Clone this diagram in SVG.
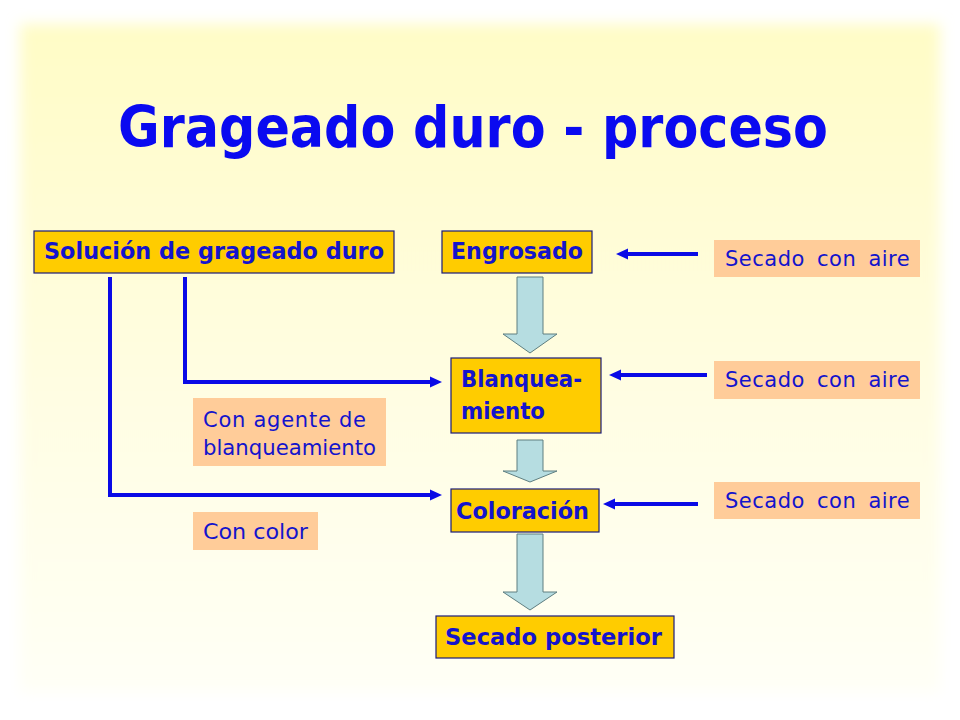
<svg xmlns="http://www.w3.org/2000/svg" width="960" height="720" viewBox="0 0 960 720">
  <defs>
    <linearGradient id="bgGrad" x1="0" y1="0" x2="0" y2="1">
      <stop offset="0" stop-color="#FFFCC6"/>
      <stop offset="0.5" stop-color="#FFFDE0"/>
      <stop offset="1" stop-color="#FFFFF6"/>
    </linearGradient>
    <filter id="soft" x="-5%" y="-5%" width="110%" height="110%">
      <feGaussianBlur stdDeviation="7"/>
    </filter>
    <marker id="head" markerUnits="userSpaceOnUse" markerWidth="13" markerHeight="11" refX="0" refY="5.5" orient="auto" overflow="visible">
      <path d="M0,0 L12,5.5 L0,11 Z" fill="#0A0AE6"/>
    </marker>
    <style>
      .box { fill: #FFCC00; stroke: #1C1C78; stroke-width: 1.2; }
      .peach { fill: #FFCC99; stroke: none; }
      .bt { font-family: "DejaVu Sans", "Liberation Sans", sans-serif; font-weight: bold; font-size: 23px; fill: #1414CC; }
      .lt { font-family: "DejaVu Sans", "Liberation Sans", sans-serif; font-size: 21px; fill: #1414CC; }
      .air { word-spacing: 5px; letter-spacing: 0.5px; }
      .title { font-family: "DejaVu Sans", "Liberation Sans", sans-serif; font-weight: bold; font-size: 57px; fill: #0A0AF0; }
      .conn { fill: none; stroke: #0A0AE6; stroke-width: 4; stroke-linejoin: miter; marker-end: url(#head); }
      .block { fill: #B6DDE1; stroke: #5E7E80; stroke-width: 1; }
    </style>
  </defs>

  <rect x="0" y="0" width="960" height="720" fill="#FFFFFF"/>
  <rect x="20" y="24" width="920" height="668" fill="url(#bgGrad)" filter="url(#soft)"/>

  <text id="title" class="title" x="118" y="147" textLength="710" lengthAdjust="spacingAndGlyphs">Grageado duro - proceso</text>

  <g id="connectors">
    <path class="conn" d="M185,277 V382 H430"/>
    <path class="conn" d="M110,277 V495 H430"/>
    <path class="conn" d="M698,254 H628"/>
    <path class="conn" d="M707,375 H621"/>
    <path class="conn" d="M698,504 H615"/>
    <polygon class="block" points="517,277 543,277 543,334 557,334 530,353 503,334 517,334"/>
    <polygon class="block" points="517,440 543,440 543,471 557,471 530,482 503,471 517,471"/>
    <polygon class="block" points="517,534 543,534 543,592 557,592 530,610 503,592 517,592"/>
  </g>

  <g id="node-solucion">
    <rect class="box" x="34" y="231" width="360" height="42"/>
    <text class="bt" x="44" y="259" textLength="340" lengthAdjust="spacingAndGlyphs">Solución de grageado duro</text>
  </g>
  <g id="node-engrosado">
    <rect class="box" x="442" y="231" width="150" height="42"/>
    <text class="bt" x="451" y="259" textLength="132" lengthAdjust="spacingAndGlyphs">Engrosado</text>
  </g>
  <g id="node-blanqueamiento">
    <rect class="box" x="451" y="358" width="150" height="75"/>
    <text class="bt" x="461" y="387" textLength="121" lengthAdjust="spacingAndGlyphs">Blanquea-</text>
    <text class="bt" x="461" y="419" textLength="84" lengthAdjust="spacingAndGlyphs">miento</text>
  </g>
  <g id="node-coloracion">
    <rect class="box" x="451" y="489" width="148" height="43"/>
    <text class="bt" x="456" y="519" textLength="133" lengthAdjust="spacingAndGlyphs">Coloración</text>
  </g>
  <g id="node-secado-posterior">
    <rect class="box" x="436" y="616" width="238" height="42"/>
    <text class="bt" x="445" y="645" textLength="217" lengthAdjust="spacingAndGlyphs">Secado posterior</text>
  </g>

  <g id="label-aire-1">
    <rect class="peach" x="714" y="240" width="206" height="37"/>
    <text class="lt air" x="725" y="266">Secado con aire</text>
  </g>
  <g id="label-aire-2">
    <rect class="peach" x="714" y="361" width="206" height="38"/>
    <text class="lt air" x="725" y="387">Secado con aire</text>
  </g>
  <g id="label-aire-3">
    <rect class="peach" x="714" y="482" width="206" height="37"/>
    <text class="lt air" x="725" y="508">Secado con aire</text>
  </g>
  <g id="label-agente">
    <rect class="peach" x="193" y="398" width="193" height="68"/>
    <text class="lt" x="203" y="427" textLength="163" lengthAdjust="spacing">Con agente de</text>
    <text class="lt" x="203" y="455" textLength="173" lengthAdjust="spacingAndGlyphs">blanqueamiento</text>
  </g>
  <g id="label-color">
    <rect class="peach" x="193" y="512" width="125" height="38"/>
    <text class="lt" x="203" y="539" textLength="105" lengthAdjust="spacingAndGlyphs">Con color</text>
  </g>
</svg>
